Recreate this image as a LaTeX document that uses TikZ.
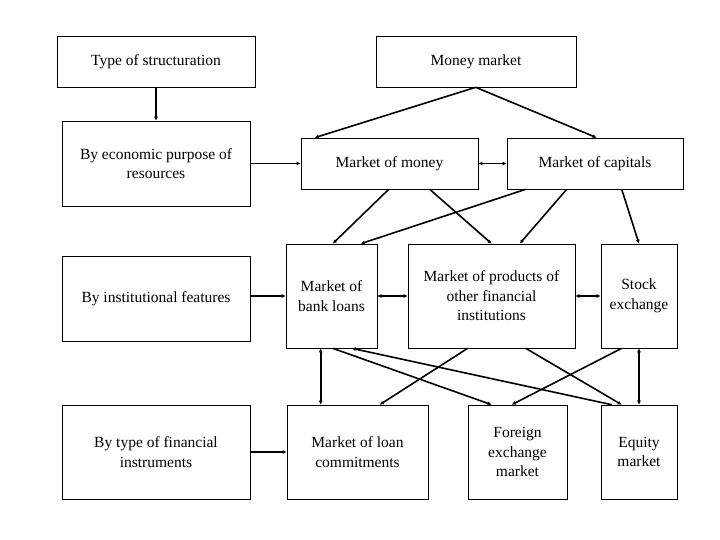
\documentclass[tikz,border=0pt]{standalone}
\usepackage{fontspec}
\setmainfont{Liberation Serif}
\usetikzlibrary{arrows.meta}
\begin{document}
\begin{tikzpicture}[x=1pt,y=-1pt,line width=1.6pt,
  box/.style={draw,line width=0.6pt,rectangle,align=center,inner sep=2pt,font=\fontsize{15.5}{19.5}\selectfont},
  ar/.style={-{Latex[length=4pt,width=4pt]}},
  bi/.style={{Latex[length=4pt,width=4pt]}-{Latex[length=4pt,width=4pt]}}]
\useasboundingbox (0,0) rectangle (720,540);
\newcommand\bx[6]{\node[box,minimum width=#4-#2,minimum height=#5-#3] (#1) at ({(#2+#4)/2},{(#3+#5)/2}) {#6};}
\bx{type}{57}{36}{255}{87}{Type of structuration}
\bx{mm}{376}{36}{576}{87}{Money market}
\bx{econ}{62}{121}{250}{206}{By economic purpose of\\resources}
\bx{money}{301}{138}{478}{189}{Market of money}
\bx{cap}{507}{138}{683}{189}{Market of capitals}
\bx{inst}{62}{256}{250}{341}{By institutional features}
\bx{bank}{286}{244}{377}{348}{Market of\\bank loans}
\bx{prod}{408}{244}{575}{348}{Market of products of\\other financial\\institutions}
\bx{stock}{601}{244}{677}{348}{Stock\\exchange}
\bx{instr}{62}{405}{250}{499}{By type of financial\\instruments}
\bx{loan}{287}{405}{428}{499}{Market of loan\\commitments}
\bx{fx}{468}{405}{567}{499}{Foreign\\exchange\\market}
\bx{eq}{601}{405}{677}{499}{Equity\\market}
% top levels
\draw[ar] (type.south) -- (type.south |- econ.north);
\draw[ar] ([xshift=100]mm.south west) -- ([xshift=14]money.north west);
\draw[ar] ([xshift=100]mm.south west) -- ([xshift=90]cap.north west);
\draw[ar] (econ.east |- money.west) -- (money.west);
\draw[bi] (money.east) -- (cap.west);
% to middle row
\draw[ar] ([xshift=88]money.south west) -- ([xshift=47]bank.north west);
\draw[ar] ([xshift=129]money.south west) -- ([xshift=84]prod.north west);
\draw[ar] ([xshift=19]cap.south west) -- ([xshift=75]bank.north west);
\draw[ar] ([xshift=60]cap.south west) -- ([xshift=112]prod.north west);
\draw[ar] ([xshift=115]cap.south west) -- (stock.north);
\draw[ar] (inst.east |- bank.west) -- (bank.west);
\draw[bi] (bank.east) -- (prod.west);
\draw[bi] (prod.east) -- (stock.west);
% to bottom row
\draw[bi] ([xshift=35]bank.south west) -- ([xshift=34]loan.north west);
\draw[ar] ([xshift=47]bank.south west) -- ([xshift=24]fx.north west);
\draw[ar] ([xshift=11]eq.north west) -- ([xshift=66]bank.south west);
\draw[ar] ([xshift=60]prod.south west) -- ([xshift=93]loan.north west);
\draw[ar] ([xshift=118]prod.south west) -- ([xshift=21]eq.north west);
\draw[ar] ([xshift=21]stock.south west) -- ([xshift=44]fx.north west);
\draw[bi] (stock.south) -- (eq.north);
\draw[ar] (instr.east |- loan.west) -- (loan.west);
\end{tikzpicture}
\end{document}
